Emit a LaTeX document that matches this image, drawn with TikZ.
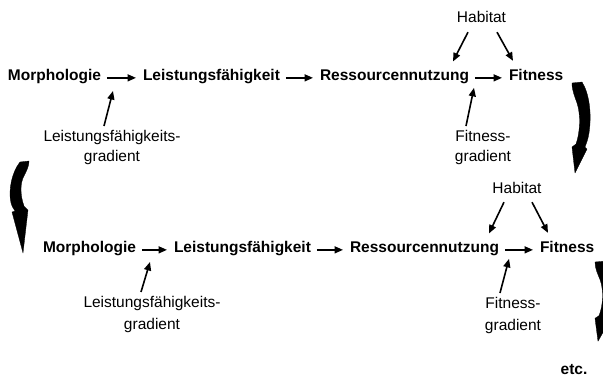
\documentclass[tikz,border=0pt]{standalone}
\usepackage{fontspec}
\setmainfont{Liberation Sans}
\usetikzlibrary{arrows.meta,calc}
\tikzset{
  word/.style={inner sep=0pt, outer sep=0pt, anchor=base west, font=\fontsize{15.5}{20}\selectfont\bfseries},
  lbl/.style={inner sep=0pt, outer sep=0pt, font=\fontsize{15.5}{20}\selectfont, align=center},
  arr/.style={line width=1.6pt, -{Triangle[length=8.5pt,width=7pt]}},
  harr/.style={arr, shorten <=6pt, shorten >=7pt},
  bigarrow/.style={fill=black, draw=black, line width=0.3pt, line join=round}
}
\begin{document}
\begin{tikzpicture}[x=1pt,y=-1pt]
\useasboundingbox (0,0) rectangle (603,376);
% row 1
\node[word] (m1) at (8,80.5) {Morphologie};
\node[word] (l1) at (143,80.5) {Leistungsfähigkeit};
\node[word] (r1) at (320,80.5) {Ressourcennutzung};
\node[word] (f1) at (509,80.5) {Fitness};
\node[lbl, anchor=base] (h1) at (481.5,22.5) {Habitat};
\node[lbl, anchor=north] (lg1) at (112,130) {Leistungsfähigkeits-\\gradient};
\node[lbl, anchor=north] (fg1) at (483,130) {Fitness-\\gradient};
\draw[harr] (m1.mid east) -- (l1.mid west);
\draw[harr] (l1.mid east) -- (r1.mid west);
\draw[harr] (r1.mid east) -- (f1.mid west);
\draw[arr] ([shift={(-13.5,9.5)}]h1.south) -- ([shift={(-16,-8.4)}]r1.north east);
\draw[arr] ([shift={(15.5,9.5)}]h1.south) -- ([shift={(4,-8.4)}]f1.north west);
\draw[arr] ([shift={(-8,-4)}]lg1.north) -- ([shift={(-30,7.2)}]l1.south west);
\draw[arr] ([shift={(-17,-4)}]fg1.north) -- ([shift={(-35,7.2)}]f1.south west);
% row 2
\node[word] (m2) at (43,252.5) {Morphologie};
\node[word] (l2) at (174,252.5) {Leistungsfähigkeit};
\node[word] (r2) at (350,252.5) {Ressourcennutzung};
\node[word] (f2) at (540,252.5) {Fitness};
\node[lbl, anchor=base] (h2) at (517,193.5) {Habitat};
\node[lbl, anchor=north, font=\fontsize{15.5}{22}\selectfont] (lg2) at (152,296) {Leistungsfähigkeits-\\gradient};
\node[lbl, anchor=north, font=\fontsize{15.5}{22}\selectfont] (fg2) at (513,297) {Fitness-\\gradient};
\draw[harr] (m2.mid east) -- (l2.mid west);
\draw[harr] (l2.mid east) -- (r2.mid west);
\draw[harr] (r2.mid east) -- (f2.mid west);
\draw[arr] ([shift={(-13,8.5)}]h2.south) -- ([shift={(-10,-8.4)}]r2.north east);
\draw[arr] ([shift={(15,8.5)}]h2.south) -- ([shift={(8,-8.4)}]f2.north west);
\draw[arr] ([shift={(-11,-4)}]lg2.north) -- ([shift={(-24,6.2)}]l2.south west);
\draw[arr] ([shift={(-13,-4)}]fg2.north) -- ([shift={(-31,6.2)}]f2.south west);
\node[word, anchor=base] (etc) at (574,374) {etc.};
% big curved arrows
\begin{scope}[shift={(572,83)}]
\fill[bigarrow] (0,0) -- (10,-1) .. controls (17,10) and (20,30) .. (17,50) .. controls (16,57) and (14,61) .. (13,64) -- (15,66) -- (3,90) -- (0,64) -- (4,61) .. controls (8,50) and (9,32) .. (5,20) .. controls (3,14) and (0,8) .. (0,0) -- cycle;
\end{scope}
\fill[bigarrow] (29,161) -- (20,162) .. controls (12,172) and (8,190) .. (11,203) .. controls (12,207) and (14,209) .. (15,211) -- (12,212) -- (23,253) -- (28,210) -- (24,206) .. controls (20,195) and (20,183) .. (24,176) .. controls (27,170) and (29,166) .. (29,161) -- cycle;
\begin{scope}
\clip (0,0) rectangle (603,376);
\begin{scope}[shift={(595,262)}, yscale=0.88]
\fill[bigarrow] (0,0) -- (10,-1) .. controls (17,10) and (20,30) .. (17,50) .. controls (16,57) and (14,61) .. (13,64) -- (15,66) -- (3,90) -- (0,64) -- (4,61) .. controls (8,50) and (9,32) .. (5,20) .. controls (3,14) and (0,8) .. (0,0) -- cycle;
\end{scope}
\end{scope}
\end{tikzpicture}
\end{document}
